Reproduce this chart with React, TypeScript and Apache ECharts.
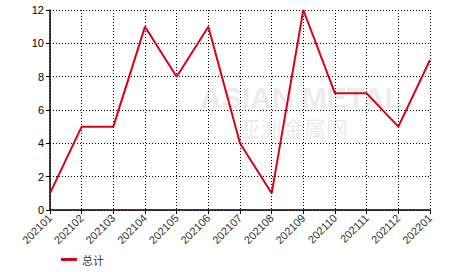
import React, { useEffect, useRef } from "react";
import * as echarts from "echarts";

const categories = ["202101","202102","202103","202104","202105","202106","202107","202108","202109","202110","202111","202112","202201"];
const totals = [1, 5, 5, 11, 8, 11, 4, 1, 12, 7, 7, 5, 9];
const seriesName = "总计";

export default function App() {
  const ref = useRef<HTMLDivElement>(null);
  useEffect(() => {
    const chart = echarts.init(ref.current!, null, { renderer: "svg" });
    chart.setOption({
      animation: false,
      backgroundColor: "#ffffff",
      textStyle: { fontFamily: "Arial, 'Liberation Sans', sans-serif" },
      graphic: [
        {
          type: "text",
          left: 200,
          top: 82,
          style: { text: "ASIAN METAL", fontSize: 30, fontWeight: "bold", fill: "rgba(200,200,200,0.35)" },
          z: -1,
        },
        {
          type: "text",
          left: 238,
          top: 116,
          style: { text: "亚洲金属网", fontSize: 22, fontFamily: "Noto Sans CJK SC", fill: "rgba(200,200,200,0.35)" },
          z: -1,
        },
      ],
      grid: { left: 50, right: 36, top: 10, bottom: 62, show: false },
      legend: {
        left: 56,
        top: 249,
        itemWidth: 16,
        itemHeight: 3,
        icon: "rect",
        itemGap: 6,
        textStyle: { fontSize: 11, color: "#333", fontFamily: "'Noto Sans CJK SC', sans-serif" },
        data: [seriesName],
      },
      xAxis: {
        type: "category",
        data: categories,
        boundaryGap: false,
        axisLine: { lineStyle: { color: "#000", width: 1.5 } },
        axisTick: { show: true, length: 4, lineStyle: { color: "#000" } },
        axisLabel: { rotate: 45, fontSize: 11, color: "#333", margin: 6, interval: 0 },
        splitLine: { show: true, lineStyle: { color: "#000", type: [1, 2], width: 1 } },
      },
      yAxis: {
        type: "value",
        min: 0,
        max: 12,
        interval: 2,
        axisLine: { show: true, lineStyle: { color: "#000", width: 1.5 } },
        axisTick: { show: true, length: 4, lineStyle: { color: "#000" } },
        axisLabel: { fontSize: 11, color: "#000", margin: 6 },
        splitLine: { show: true, lineStyle: { color: "#000", type: [1, 2], width: 1 } },
      },
      series: [
        {
          name: seriesName,
          type: "line",
          data: totals,
          symbol: "none",
          lineStyle: { color: "#d9001b", width: 2 },
          itemStyle: { color: "#d9001b" },
        },
      ],
    });
    return () => chart.dispose();
  }, []);
  return <div ref={ref} style={{ width: 466, height: 272, position: "absolute", left: 0, top: 0 }} />;
}
